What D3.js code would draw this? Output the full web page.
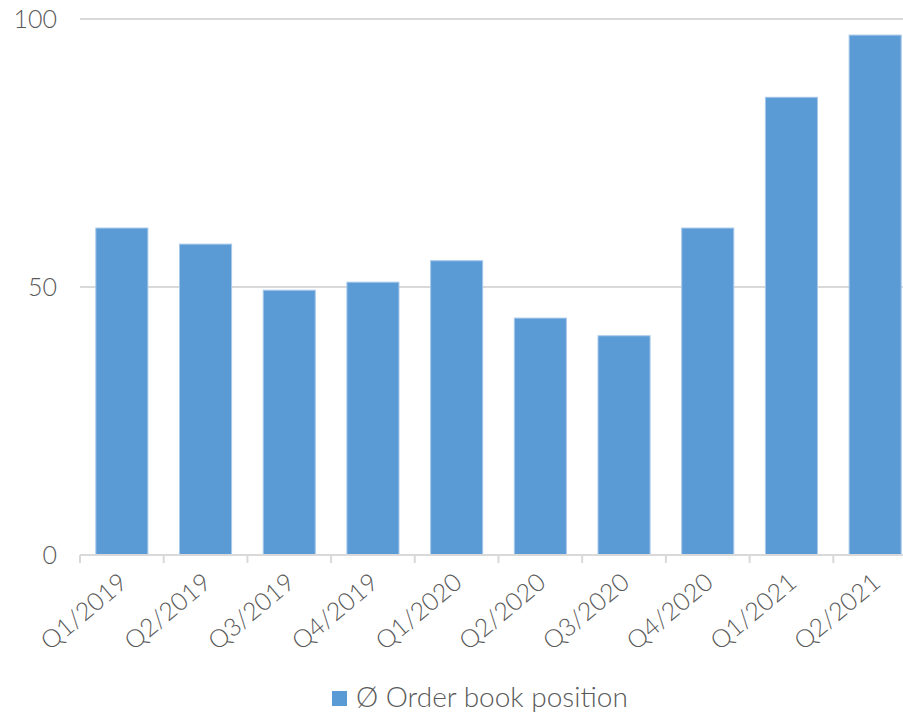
<!DOCTYPE html>
<html>
<head>
<meta charset="utf-8">
<script src="https://cdn.jsdelivr.net/npm/d3@7"></script>
<style>
  body { margin: 0; background: #fff; }
  text { font-family: Lato, "Noto Sans", sans-serif; fill: #595959; font-weight: 300; }
</style>
</head>
<body>
<div id="chart"></div>
<script>
// quarters and the average order book position
const quarters = ["Q1/2019", "Q2/2019", "Q3/2019", "Q4/2019", "Q1/2020",
                  "Q2/2020", "Q3/2020", "Q4/2020", "Q1/2021", "Q2/2021"];
const orderBook = [61, 58, 49.4, 50.9, 54.9, 44.2, 40.9, 61, 85.4, 97];
const yTicks = [0, 50, 100];
const seriesName = "Ø Order book position";

const W = 903, H = 714;
const plotLeft = 80, plotRight = 917, plotTop = 19, plotBottom = 555;

const svg = d3.select("#chart")
    .append("svg")
    .attr("width", W)
    .attr("height", H);

const x = d3.scaleBand()
    .domain(quarters)
    .range([plotLeft, plotRight])
    .paddingInner(0.378)
    .paddingOuter(0.189);

const y = d3.scaleLinear()
    .domain([0, 100])
    .range([plotBottom, plotTop]);

// gridlines
svg.append("g")
    .selectAll("line")
    .data(yTicks.filter(d => d > 0))
    .join("line")
    .attr("x1", plotLeft)
    .attr("x2", plotRight)
    .attr("y1", d => y(d))
    .attr("y2", d => y(d))
    .attr("stroke", "#d9d9d9")
    .attr("stroke-width", 2);

// y labels
svg.append("g")
    .selectAll("text")
    .data(yTicks)
    .join("text")
    .attr("x", 57)
    .attr("y", d => y(d))
    .attr("dy", "0.36em")
    .attr("text-anchor", "end")
    .style("font-size", "25px")
    .text(d => d);

// bars
svg.append("g")
    .selectAll("rect")
    .data(orderBook)
    .join("rect")
    .attr("x", (d, i) => x(quarters[i]))
    .attr("y", d => y(d))
    .attr("width", x.bandwidth())
    .attr("height", d => y(0) - y(d))
    .attr("fill", "#5b9bd5")
    .attr("stroke", "#a8c8ea")
    .attr("stroke-width", 1);

// x axis line and ticks at band boundaries
svg.append("line")
    .attr("x1", plotLeft)
    .attr("x2", plotRight)
    .attr("y1", plotBottom)
    .attr("y2", plotBottom)
    .attr("stroke", "#d9d9d9")
    .attr("stroke-width", 2);

const step = x.step();
svg.append("g")
    .selectAll("line")
    .data(quarters)
    .join("line")
    .attr("x1", d => x(d) - (step - x.bandwidth()) / 2)
    .attr("x2", d => x(d) - (step - x.bandwidth()) / 2)
    .attr("y1", plotBottom)
    .attr("y2", plotBottom + 8)
    .attr("stroke", "#d9d9d9")
    .attr("stroke-width", 2);

// rotated category labels
svg.append("g")
    .selectAll("text")
    .data(quarters)
    .join("text")
    .attr("text-anchor", "end")
    .attr("transform", d => `translate(${x(d) + x.bandwidth() / 2 + 7}, ${plotBottom + 30}) rotate(-40)`)
    .style("font-size", "25px")
    .text(d => d);

// legend
const legend = svg.append("g").attr("transform", "translate(332, 691)");
legend.append("rect")
    .attr("width", 15)
    .attr("height", 15)
    .attr("fill", "#5b9bd5");
legend.append("text")
    .attr("x", 24)
    .attr("y", 16)
    .style("font-size", "28px")
    .text(seriesName);
</script>
</body>
</html>
